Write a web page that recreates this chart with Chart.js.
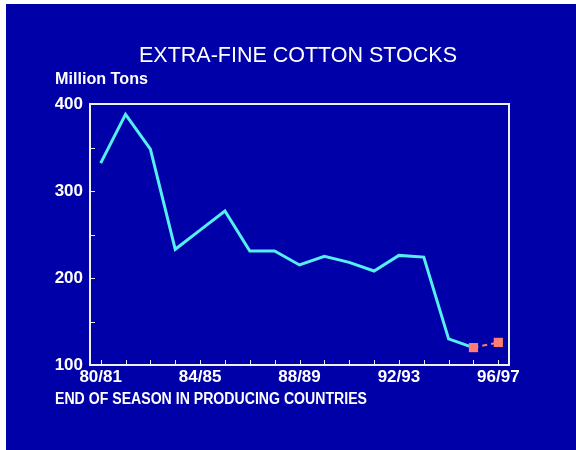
<!DOCTYPE html>
<html>
<head>
<meta charset="utf-8">
<title>Extra-fine cotton stocks</title>
<script src="https://cdn.jsdelivr.net/npm/chart.js@4.4.1/dist/chart.umd.min.js"></script>
<style>
  html, body { margin: 0; padding: 0; background: #ffffff; }
  #wrap { width: 576px; height: 450px; position: relative; }
</style>
</head>
<body>
<div id="wrap"><canvas id="stocks-chart"></canvas></div>
<script>
// Seasons on the x axis (end of season)
const seasons = [
  "80/81", "81/82", "82/83", "83/84", "84/85", "85/86", "86/87", "87/88", "88/89",
  "89/90", "90/91", "91/92", "92/93", "93/94", "94/95", "95/96", "96/97",
];
// Stocks, million tons (solid line)
const stocks = [332, 388, 348, 233, 255, 277, 231, 231, 215, 225, 218, 208, 226, 224, 130, 120];
// Estimate / forecast (dashed line with squares)
const forecastSeasons = ["95/96", "96/97"];
const forecast = [120, 126];
// Labelled ticks
const xLabels = ["80/81", "84/85", "88/89", "92/93", "96/97"];
const yLabels = [100, 200, 300, 400];

const BLUE = "#0000a8";
const CYAN = "#55eef2";
const SALMON = "#ff7b74";
const LABEL_FONT = "'Liberation Sans', Arial, Helvetica, sans-serif";

// write a text squeezed to a given width (the original font is narrow)
const fitText = (ctx, text, x, y, width, font) => {
  ctx.save();
  ctx.font = font;
  ctx.textAlign = "left";
  ctx.textBaseline = "alphabetic";
  const m = ctx.measureText(text).width;
  ctx.translate(x, y);
  ctx.scale(width / m, 1);
  ctx.fillText(text, 0, 0);
  ctx.restore();
};

// --------------------------------------------------------------------------------------------------
// background, frame, inward ticks and captions
const decorations = {
  id: "decorations",
  beforeDraw(chart) {
    const ctx = chart.ctx;
    ctx.save();
    ctx.fillStyle = BLUE;
    ctx.fillRect(6, 4, chart.width - 6, chart.height - 4);
    ctx.restore();
  },
  beforeDatasetsDraw(chart) {
    const ctx = chart.ctx;
    const area = chart.chartArea;
    const xs = chart.scales.x;
    const ys = chart.scales.y;
    ctx.save();
    ctx.strokeStyle = "#e8e8f0";
    ctx.lineWidth = 1;
    ctx.beginPath();
    xs.ticks.forEach((t) => {
      const px = Math.round(xs.getPixelForValue(t.value)) + 0.5;
      ctx.moveTo(px, area.bottom);
      ctx.lineTo(px, area.bottom - 5);
    });
    ys.ticks.forEach((t) => {
      if (t.value === ys.min || t.value === ys.max) return;
      const py = Math.round(ys.getPixelForValue(t.value)) + 0.5;
      ctx.moveTo(area.left, py);
      ctx.lineTo(area.left + 5, py);
    });
    ctx.stroke();
    ctx.lineWidth = 2;
    ctx.strokeStyle = "#f0f0f8";
    ctx.strokeRect(area.left, area.top, area.right - area.left, area.bottom - area.top);
    ctx.restore();
  },
  afterDraw(chart) {
    const ctx = chart.ctx;
    ctx.save();
    ctx.fillStyle = "#ffffff";
    fitText(ctx, "EXTRA-FINE COTTON STOCKS", 139, 62, 318, "21.5px " + LABEL_FONT);
    fitText(ctx, "Million Tons", 55, 84, 93, "bold 17px " + LABEL_FONT);
    fitText(ctx, "END OF SEASON IN PRODUCING COUNTRIES", 55, 404, 312, "bold 16px " + LABEL_FONT);
    ctx.restore();
  },
};

const stocksData = stocks.map((v, i) => ({ x: i, y: v }));
const forecastData = forecast.map((v, i) => ({ x: seasons.indexOf(forecastSeasons[i]), y: v }));

new Chart("stocks-chart", {
  type: "line",
  data: {
    datasets: [
      {
        label: "Forecast",
        data: forecastData,
        order: 0,
        borderColor: SALMON,
        backgroundColor: SALMON,
        borderWidth: 2,
        borderDash: [5, 4],
        pointStyle: "rect",
        pointRadius: 6.5,
        pointBorderWidth: 0,
        pointBackgroundColor: SALMON,
        tension: 0,
      },
      {
        label: "Stocks",
        data: stocksData,
        order: 1,
        borderColor: CYAN,
        borderWidth: 3,
        pointRadius: 0,
        tension: 0,
        borderJoinStyle: "miter",
      },
    ],
  },
  options: {
    responsive: true,
    maintainAspectRatio: false,
    animation: false,
    layout: { padding: { left: 0, right: 67, top: 104, bottom: 55 } },
    plugins: {
      legend: { display: false },
      tooltip: { enabled: false },
    },
    scales: {
      x: {
        type: "linear",
        min: -0.43,
        max: seasons.length - 1 + 0.43,
        afterBuildTicks: (scale) => {
          scale.ticks = seasons.map((s, i) => ({ value: i }));
        },
        afterFit: (scale) => { scale.height = 30; },
        grid: { display: false, drawTicks: false },
        border: { display: false },
        ticks: {
          autoSkip: false,
          maxRotation: 0,
          padding: 2,
          color: "#ffffff",
          font: { family: LABEL_FONT, size: 17, weight: "bold" },
          callback: (value) => (xLabels.includes(seasons[value]) ? seasons[value] : ""),
        },
      },
      y: {
        min: 100,
        max: 400,
        afterFit: (scale) => { scale.width = 90; },
        grid: { display: false, drawTicks: false },
        border: { display: false },
        ticks: {
          stepSize: 50,
          padding: 7,
          color: "#ffffff",
          font: { family: LABEL_FONT, size: 17, weight: "bold" },
          callback: (value) => (yLabels.includes(value) ? value : ""),
        },
      },
    },
  },
  plugins: [decorations],
});
</script>
</body>
</html>
